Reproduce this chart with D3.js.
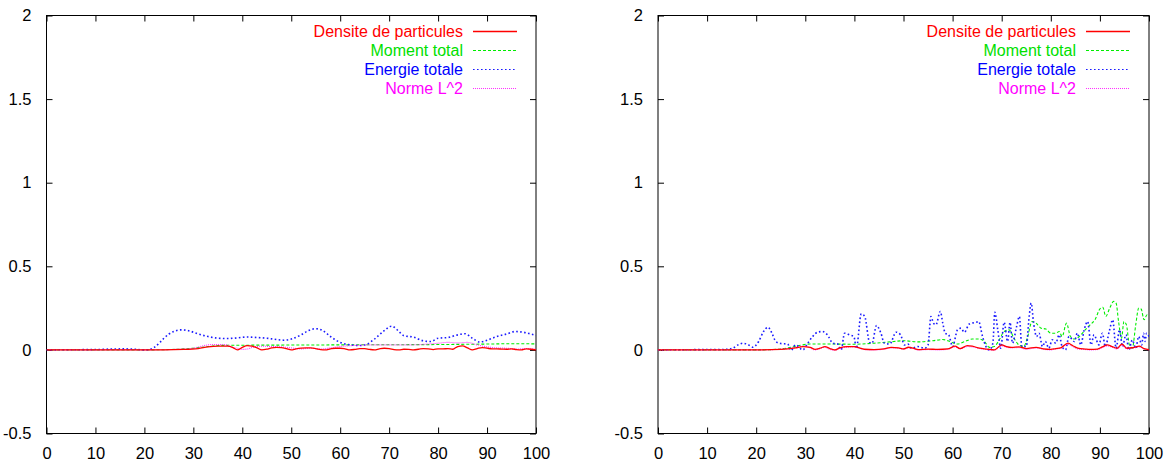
<!DOCTYPE html>
<html>
<head>
<meta charset="utf-8">
<script src="https://cdn.jsdelivr.net/npm/d3@7"></script>
<style>
  html, body { margin: 0; padding: 0; background: #fff; }
  svg { display: block; }
  text { font-family: "Liberation Sans", Arial, sans-serif; }
</style>
</head>
<body>
<svg id="chart" width="1170" height="464"></svg>
<script>
// ---------- data ----------
const xTicks = [0, 10, 20, 30, 40, 50, 60, 70, 80, 90, 100];
const yTicks = [-0.5, 0, 0.5, 1, 1.5, 2];
const yTickLabels = ["-0.5", "0", "0.5", "1", "1.5", "2"];
const seriesNames = ["Densite de particules", "Moment total", "Energie totale", "Norme L^2"];

// Left panel
const leftDensiteX = [0,20,28,31,33,35,37,38,39,40,41,42,43,44,45,46,47,48,49,50,51,52,53,54,55,56,57,58,59,60,61,62,63,64,65,66,67,68,69,70,71,72,73,74,75,76,77,78,79,80,81,82,83,84,85,86,87,88,89,90,91,92,93,94,95,96,97,98,99,100];
const leftDensiteY = [0,0,0.003,0.008,0.018,0.022,0.022,0.015,0.0,0.015,0.025,0.022,0.012,0.0,0.004,0.012,0.015,0.014,0.008,0.0,0.006,0.01,0.012,0.012,0.008,0.002,0.0,0.006,0.01,0.01,0.006,0.0,0.003,0.008,0.008,0.003,0.0,0.006,0.01,0.008,0.002,0.0,0.004,0.003,0.0,0.004,0.008,0.006,0.002,0.006,0.006,0.008,0.004,0.02,0.024,0.012,0.0,0.008,0.014,0.01,0.006,0.006,0.005,0.004,0.006,0.002,0.0,0.006,0.004,0.0];

const leftMomentX = [0,20,25,30,33,36,40,50,60,70,80,90,95,100];
const leftMomentY = [0,0,0.002,0.01,0.02,0.027,0.028,0.029,0.03,0.031,0.032,0.035,0.037,0.036];

const leftEnergieX = [0,5,10,13,16,18,20,21,22,23,24,25,26,27.5,29,31,33,35,37,39,41,43,45,47,48.5,50,52,53.5,55,56.5,58,60,62,64,65.5,67,69,70.5,72,73,75,77,78.5,80,82,84,85.5,87,88.5,90,92,94,95.7,97.5,100];
const leftEnergieY = [0,0.001,0.002,0.005,0.006,0.004,0,0.002,0.015,0.04,0.07,0.095,0.11,0.12,0.115,0.095,0.08,0.07,0.068,0.072,0.077,0.074,0.07,0.062,0.058,0.065,0.09,0.115,0.127,0.115,0.08,0.045,0.03,0.026,0.035,0.065,0.115,0.142,0.11,0.085,0.076,0.054,0.05,0.07,0.074,0.09,0.097,0.07,0.047,0.058,0.08,0.095,0.11,0.105,0.086];

const leftNormeX = [0,20,28,30,32,34,36,37,38,39,40,41,42,44,46,48,50,52,54,56,58,60,62,64,66,70,74,78,80,82,84,86,88,90,92,94,96,98,100];
const leftNormeY = [0,0,0.005,0.01,0.025,0.032,0.032,0.028,0.015,0.01,0.003,0.005,0.015,0.022,0.02,0.018,0.012,0.006,0.01,0.005,0.012,0.02,0.025,0.028,0.03,0.03,0.03,0.035,0.04,0.045,0.042,0.045,0.03,0.018,0.012,0.01,0.005,0.008,0.003];

// Right panel
const rightDensiteX = [0,20,25,28,29.5,31,32,33,34,35,36,37,38.5,40,41,42,44,46,47.5,49,50,51,52,53,55,57,59,60.5,61.5,63,64,65.5,67,68.5,70,71,72,73.5,75,77,78.5,80,81,82,83.5,84.5,85.5,87,88,89.5,90.5,91.5,92.5,93.5,94.5,95.5,97,98,99,100];
const rightDensiteY = [0,0,0.003,0.012,0.02,0.015,0.003,0.01,0.02,0.008,0.0,0.012,0.02,0.02,0.012,0.004,0.002,0.006,0.015,0.012,0.006,0.016,0.01,0.002,0.005,0.003,0.006,0.022,0.008,0.025,0.022,0.01,0.005,0.0,0.03,0.02,0.015,0.018,0.008,0.015,0.006,0.003,0.008,0.012,0.04,0.025,0.01,0.005,0.003,0.005,0.018,0.03,0.02,0.01,0.035,0.01,0.015,0.022,0.008,0.002];

const rightMomentX = [0,20,25,27,29,31,35,40,44,48,50,53,56,58,59.5,61,62.5,64,65.5,66.5,67.5,68.5,69.5,70.5,71.5,72.5,73.5,74.5,75.2,76.2,77,78,79,80,81,81.7,82.3,83.2,84,84.8,85.8,87,88,89,90,90.6,91.2,92,92.8,93.3,93.8,94.4,94.9,95.4,96,96.6,97.3,97.9,98.4,99,99.6,100];
const rightMomentY = [0,0,0.005,0.015,0.028,0.035,0.035,0.034,0.04,0.05,0.055,0.048,0.055,0.062,0.05,0.035,0.05,0.065,0.065,0.05,0.015,0.02,0.06,0.11,0.12,0.07,0.03,0.02,0.07,0.17,0.16,0.13,0.125,0.1,0.1,0.11,0.08,0.16,0.08,0.065,0.08,0.12,0.15,0.18,0.245,0.255,0.2,0.25,0.29,0.28,0.17,0.07,0.17,0.15,0.03,0.01,0.15,0.25,0.245,0.18,0.21,0.21];

const rightEnergieX = [0,10,14,15.2,16.3,17.3,18.3,19.3,20.5,21.5,22.4,23.2,24,25,26.4,27.1,28,29.5,30.5,31.5,32.5,33.5,34.5,35.6,36.6,37.3,38,39,39.9,40.4,41.4,42.1,43.1,43.6,44.5,45.4,46.1,47.2,48.5,49.4,50.2,50.9,51.6,52.9,54.3,55,55.6,56.1,56.6,57.5,58,58.5,59.2,60,61,61.7,62.4,63.4,64.8,65.3,66.1,66.8,67.5,68.2,68.6,69.2,69.8,70.5,71.2,71.7,72.2,73,73.6,74.1,75,75.6,76,76.5,77.1,77.6,78.3,78.9,79.6,80.3,81,81.7,82.3,83,83.7,84.8,85.4,86.1,86.8,87.5,88.2,88.8,89.8,90.5,91.1,91.9,92.6,93.3,94,94.6,95.3,95.9,96.6,97.3,97.9,98.5,98.9,99.2,99.5,100];
const rightEnergieY = [0,0.002,0.003,0.01,0.03,0.04,0.032,0.016,0.05,0.11,0.136,0.1,0.05,0.038,0.035,-0.003,0.03,0.0,0.04,0.08,0.106,0.11,0.09,0.04,0.035,0.0,0.1,0.09,0.08,0.01,0.216,0.2,0.045,0.04,0.146,0.1,0.04,0.035,0.106,0.09,0.03,0.035,0.01,0.02,0.01,0.03,0.2,0.16,0.15,0.23,0.16,0.1,0.09,0.02,0.12,0.13,0.105,0.155,0.165,0.17,0.08,0.02,0.0,0.04,0.225,0.12,0.01,0.165,0.05,0.165,0.04,0.135,0.2,0.02,0.02,0.2,0.28,0.16,0.08,0.1,0.02,0.05,0.01,0.06,0.04,0.09,0.02,0.0,0.08,0.05,0.1,0.03,0.12,0.17,0.03,0.09,0.03,0.1,0.02,0.11,0.18,0.01,0.12,0.02,0.09,0.0,0.06,0.01,0.08,0.03,0.1,0.05,0.1,0.08];

const rightNormeX = [0,20,25,28,29.5,31,32,33,34,35,36,37,38.5,40,41,42,44,46,47.5,49,50,51,52,53,55,57,59,60.5,61.5,63,64,65.5,67,68.5,70,71,72,73.5,75,77,78.5,80,81,82,83.5,84.5,85.5,87,88,89.5,90.5,91.5,92.5,93.5,94.5,95.5,97,98,99,100];
const rightNormeY = [0,0,0.004,0.014,0.022,0.012,0.0,0.008,0.016,0.004,-0.002,0.01,0.016,0.018,0.01,0.002,0.0,0.004,0.012,0.01,0.004,0.014,0.008,0.0,0.002,0.0,0.004,0.018,0.006,0.02,0.018,0.008,0.002,-0.002,0.024,0.016,0.012,0.014,0.004,0.012,0.004,0.0,0.006,0.01,0.034,0.02,0.006,0.002,0.0,0.002,0.014,0.024,0.016,0.006,0.028,0.006,0.012,0.018,0.006,0.0];

// ---------- drawing ----------
const svg = d3.select("#chart");
const colors = ["#ff0000", "#00e000", "#0000ff", "#ff00ff"];
const dashes = [null, "3,2", "1.6,2.4", "1,1"];
const lineColors = ["#ff0000", "#00ee00", "#1a1aff", "#ff30ff"];
const widths = [1.3, 1.1, 1.6, 1.1];

const panels = [
  { x0: 46.5, x1: 536, series: [
      [leftDensiteX, leftDensiteY], [leftMomentX, leftMomentY],
      [leftEnergieX, leftEnergieY], [leftNormeX, leftNormeY]] },
  { x0: 658, x1: 1149, series: [
      [rightDensiteX, rightDensiteY], [rightMomentX, rightMomentY],
      [rightEnergieX, rightEnergieY], [rightNormeX, rightNormeY]] }
];
const yTop = 15.5, yBottom = 433.5;

panels.forEach((p, pi) => {
  const x = d3.scaleLinear().domain([0, 100]).range([p.x0, p.x1]);
  const y = d3.scaleLinear().domain([-0.5, 2]).range([yBottom, yTop]);
  const g = svg.append("g");
  const fmtY = d => yTickLabels[yTicks.indexOf(d)];

  const bottom = g.append("g").attr("transform", `translate(0,${yBottom})`)
    .call(d3.axisBottom(x).tickValues(xTicks).tickSize(-6).tickPadding(14).tickFormat(d => String(d)));
  const top = g.append("g").attr("transform", `translate(0,${yTop})`)
    .call(d3.axisTop(x).tickValues(xTicks).tickSize(-6).tickFormat(""));
  const left = g.append("g").attr("transform", `translate(${p.x0},0)`)
    .call(d3.axisLeft(y).tickValues(yTicks).tickSize(-6).tickPadding(15).tickFormat(fmtY));
  const right = g.append("g").attr("transform", `translate(${p.x1},0)`)
    .call(d3.axisRight(y).tickValues(yTicks).tickSize(-6).tickFormat(""));
  [bottom, top, left, right].forEach(a => {
    a.select(".domain").remove();
    a.selectAll(".tick line").attr("stroke", "#000").attr("stroke-width", 1);
    a.selectAll("text").attr("font-size", 16.5).attr("fill", "#000")
      .attr("font-family", "'Liberation Sans', Arial, sans-serif");
  });

  g.append("rect").attr("x", p.x0).attr("y", yTop)
    .attr("width", p.x1 - p.x0).attr("height", yBottom - yTop)
    .attr("fill", "none").attr("stroke", "#000").attr("stroke-width", 1);

  const clipId = "clip" + pi;
  svg.append("clipPath").attr("id", clipId).append("rect")
    .attr("x", p.x0).attr("y", yTop).attr("width", p.x1 - p.x0).attr("height", yBottom - yTop);

  const line = d3.line().x(d => x(d[0])).y(d => y(d[1])).curve(d3.curveMonotoneX);
  const order = [1, 2, 3, 0];
  order.forEach(i => {
    const [xs, ys] = p.series[i];
    const pts = xs.map((v, k) => [v, ys[k]]);
    g.append("path").attr("d", line(pts)).attr("fill", "none")
      .attr("clip-path", `url(#${clipId})`)
      .attr("stroke", lineColors[i]).attr("stroke-width", widths[i])
      .attr("stroke-dasharray", dashes[i]);
  });

  const textEnd = p.x1 - 73, lx0 = p.x1 - 63, lx1 = p.x1 - 19;
  const rowY = [31, 50, 69, 88];
  seriesNames.forEach((name, i) => {
    g.append("text").attr("x", textEnd).attr("y", rowY[i]).attr("dy", "0.35em")
      .attr("text-anchor", "end").attr("font-size", 16).attr("fill", colors[i]).text(name);
    g.append("line").attr("x1", lx0).attr("x2", lx1).attr("y1", rowY[i] + 0.5).attr("y2", rowY[i] + 0.5)
      .attr("stroke", lineColors[i]).attr("stroke-width", i === 0 ? 1.5 : 1.1)
      .attr("stroke-dasharray", dashes[i]);
  });
});
</script>
</body>
</html>
